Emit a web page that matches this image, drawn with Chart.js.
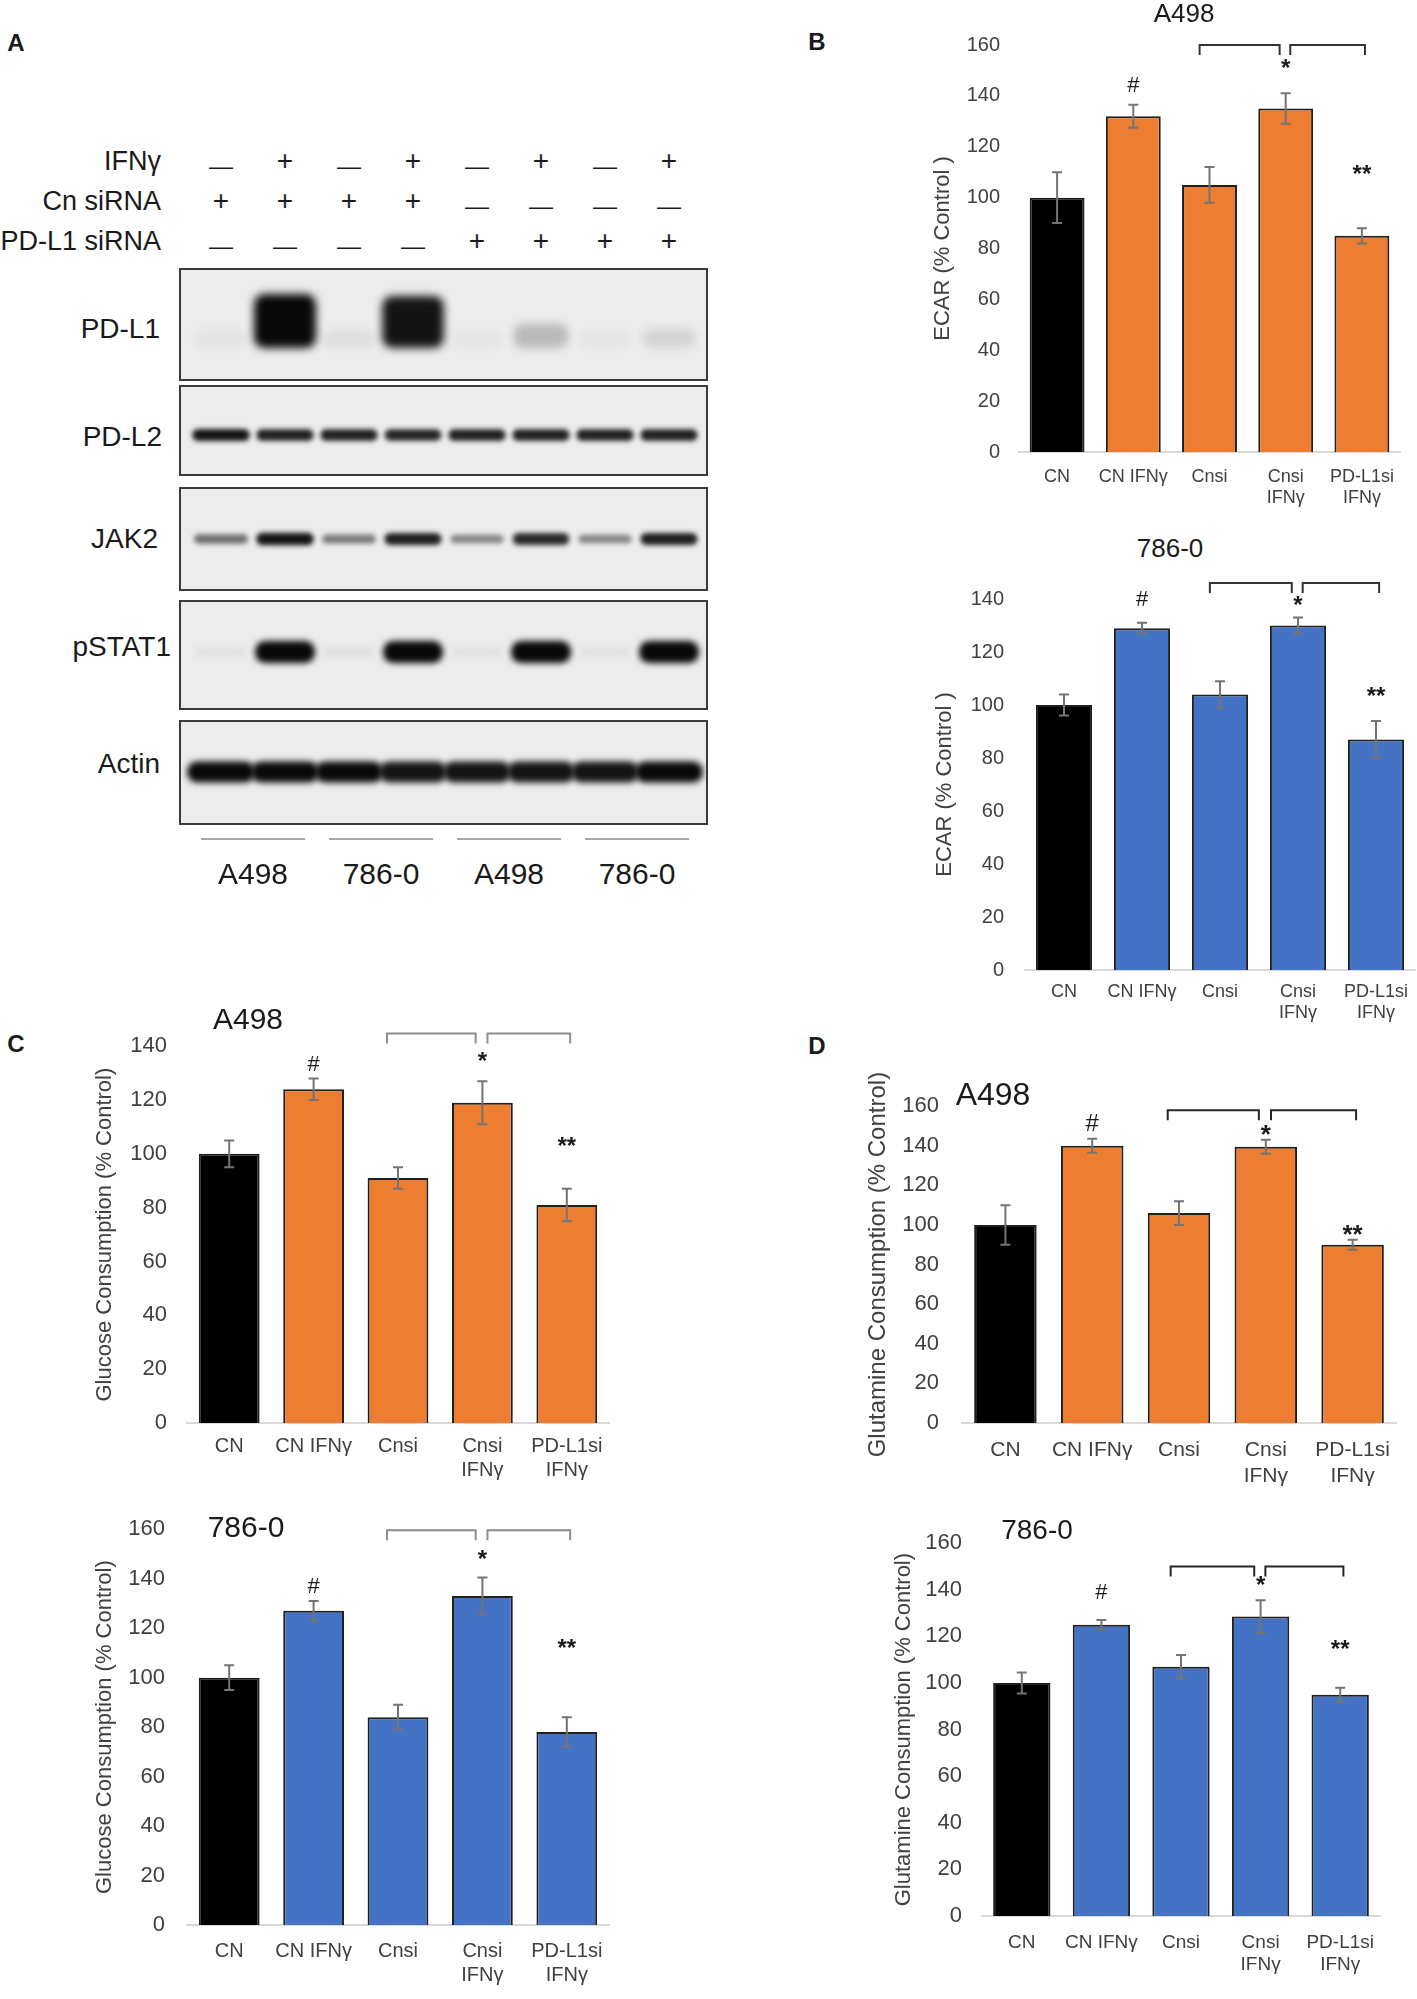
<!DOCTYPE html>
<html>
<head>
<meta charset="utf-8">
<script src="https://cdn.jsdelivr.net/npm/chart.js@4.4.1/dist/chart.umd.min.js"></script>
<style>
  body { margin: 0; background: #fff; }
  #fig { position: relative; width: 1417px; height: 1999px; overflow: hidden;
         font-family: "Liberation Sans", Arial, sans-serif; color: #1a1a1a; }
  .t { position: absolute; white-space: nowrap; line-height: 1; }
  .blot { position: absolute; border: 2px solid #3a3a3a; background: #ececec; box-sizing: border-box; }
  .seg { position: absolute; height: 2px; background: #a8a8a8; }
</style>
</head>
<body>
<div id="fig"></div>
<script>
// bar chart data (% of control)
const groups = ['CN', 'CN IFNγ', 'Cnsi', ['Cnsi', 'IFNγ'], ['PD-L1si', 'IFNγ']];

const ecarA498 = [100, 132, 105, 135, 85];
const ecarA498Err = [10, 4.5, 7, 6, 3];
const ecar786 = [100, 129, 104, 130, 87];
const ecar786Err = [4, 2, 5, 3, 7];
const glucoseA498 = [100, 124, 91, 119, 81];
const glucoseA498Err = [5, 4, 4, 8, 6];
const glucose786 = [100, 127, 84, 133, 78];
const glucose786Err = [5, 4, 5, 7.5, 6];
const glutamineA498 = [100, 140, 106, 139.5, 90];
const glutamineA498Err = [10, 3.5, 6, 3.5, 2.5];
const glutamine786 = [100, 125, 107, 128.5, 95];
const glutamine786Err = [4.5, 2, 5, 7, 3];

// western blot (band intensity 0..1)
const lanes = ['1', '2', '3', '4', '5', '6', '7', '8'];
const treatRows = ['IFNγ', 'Cn siRNA', 'PD-L1 siRNA'];
const ifng = ['—', '+', '—', '+', '—', '+', '—', '+'];
const cnSiRNA = ['+', '+', '+', '+', '—', '—', '—', '—'];
const pdl1SiRNA = ['—', '—', '—', '—', '+', '+', '+', '+'];
const blotNames = ['PD-L1', 'PD-L2', 'JAK2', 'pSTAT1', 'Actin'];
const pdl1Band = [0.04, 1, 0.06, 0.95, 0.03, 0.22, 0.03, 0.1];
const pdl2Band = [0.95, 0.9, 0.9, 0.88, 0.9, 0.9, 0.9, 0.9];
const jak2Band = [0.55, 0.95, 0.5, 0.9, 0.45, 0.85, 0.45, 0.9];
const pstat1Band = [0.05, 1, 0.06, 1, 0.05, 1, 0.05, 1];
const actinBand = [1, 1, 1, 0.95, 0.95, 0.95, 0.95, 1];
const cellLines = ['A498', '786-0', 'A498', '786-0'];

const ORANGE = '#ED7D31';
const BLUE = '#4472C4';
const FONT = '"Liberation Sans", Arial, sans-serif';
Chart.defaults.font.family = FONT;

const fig = document.getElementById('fig');

function addCanvas(left, top, w, h) {
  const c = document.createElement('canvas');
  c.width = w; c.height = h;
  c.style.cssText = `position:absolute;left:${left}px;top:${top}px;width:${w}px;height:${h}px`;
  fig.appendChild(c);
  return c;
}

function addText(str, x, y, size, align, weight) {
  const d = document.createElement('div');
  d.className = 't';
  d.textContent = str;
  const tx = align === 'right' ? '-100%' : align === 'left' ? '0' : '-50%';
  d.style.cssText += `left:${x}px;top:${y}px;font-size:${size}px;font-weight:${weight || 400};transform:translate(${tx},-50%)`;
  fig.appendChild(d);
  return d;
}

// error bars, brackets and significance marks
const decorPlugin = {
  id: 'decor',
  afterDraw(chart, args, o) {
    const {ctx, scales: {x, y}} = chart;
    const meta = chart.getDatasetMeta(0);
    const vals = chart.data.datasets[0].data;
    ctx.save();
    ctx.strokeStyle = '#747474';
    ctx.lineWidth = 2;
    o.errors.forEach((e, i) => {
      const cx = meta.data[i].x;
      const yt = y.getPixelForValue(vals[i] + e);
      const yb = y.getPixelForValue(vals[i] - e);
      ctx.beginPath();
      ctx.moveTo(cx, yt); ctx.lineTo(cx, yb);
      ctx.moveTo(cx - 5, yt); ctx.lineTo(cx + 5, yt);
      ctx.moveTo(cx - 5, yb); ctx.lineTo(cx + 5, yb);
      ctx.stroke();
    });
    // brackets
    ctx.strokeStyle = o.bracketColor;
    ctx.lineWidth = 2;
    const by = y.getPixelForValue(o.marks.bracket);
    [[2 - 0.13, 3 - 0.08], [3 + 0.06, 4 + 0.04]].forEach(([a, b]) => {
      const xa = x.getPixelForValue(a), xb = x.getPixelForValue(b);
      ctx.beginPath();
      ctx.moveTo(xa, by + 10); ctx.lineTo(xa, by); ctx.lineTo(xb, by); ctx.lineTo(xb, by + 10);
      ctx.stroke();
    });
    // marks
    ctx.fillStyle = '#1a1a1a';
    ctx.textAlign = 'center';
    ctx.textBaseline = 'middle';
    ctx.font = `${o.markSize}px ${FONT}`;
    ctx.fillText('#', x.getPixelForValue(1), y.getPixelForValue(o.marks.hash));
    ctx.font = `bold ${o.markSize + 2}px ${FONT}`;
    ctx.fillText('*', x.getPixelForValue(3), y.getPixelForValue(o.marks.star) + o.markSize * 0.2);
    ctx.fillText('**', x.getPixelForValue(4), y.getPixelForValue(o.marks.dstar) + o.markSize * 0.2);
    ctx.restore();
  }
};

const barPanels = [
  { values: ecarA498, errors: ecarA498Err, accent: ORANGE, yMax: 160, yTitle: 'ECAR (% Control )',
    left: 1019, right: 1400, top: 38, bottom: 452, titleX: 943, tickPad: 19, labelPad: 14,
    font: {tick: 20, x: 18, title: 22}, markSize: 22, bracketColor: '#333',
    marks: {hash: 144, star: 152, dstar: 110.5, bracket: 160} },
  { values: ecar786, errors: ecar786Err, accent: BLUE, yMax: 140, yTitle: 'ECAR (% Control )',
    left: 1025, right: 1415, top: 590, bottom: 970, titleX: 945, tickPad: 21, labelPad: 11,
    font: {tick: 20, x: 18, title: 22}, markSize: 22, bracketColor: '#333',
    marks: {hash: 139.5, star: 139, dstar: 104.5, bracket: 146} },
  { values: glucoseA498, errors: glucoseA498Err, accent: ORANGE, yMax: 140, yTitle: 'Glucose Consumption (% Control)',
    left: 187, right: 609, top: 1037, bottom: 1423, titleX: 105, tickPad: 20, labelPad: 11,
    font: {tick: 22, x: 20, title: 22}, markSize: 22, bracketColor: '#8c8c8c',
    marks: {hash: 133, star: 135.8, dstar: 104, bracket: 144.7} },
  { values: glucose786, errors: glucose786Err, accent: BLUE, yMax: 160, yTitle: 'Glucose Consumption (% Control)',
    left: 187, right: 609, top: 1518, bottom: 1925, titleX: 105, tickPad: 22, labelPad: 14,
    font: {tick: 22, x: 20, title: 22}, markSize: 22, bracketColor: '#8c8c8c',
    marks: {hash: 136.6, star: 149, dstar: 113, bracket: 159.6} },
  { values: glutamineA498, errors: glutamineA498Err, accent: ORANGE, yMax: 160, yTitle: 'Glutamine Consumption (% Control)',
    left: 962, right: 1396, top: 1094, bottom: 1423, titleX: 878, tickPad: 23, labelPad: 15,
    font: {tick: 22, x: 21, title: 24}, markSize: 24, bracketColor: '#262626',
    marks: {hash: 150.7, star: 147.5, dstar: 97, bracket: 158} },
  { values: glutamine786, errors: glutamine786Err, accent: BLUE, yMax: 160, yTitle: 'Glutamine Consumption (% Control)',
    left: 982, right: 1380, top: 1534, bottom: 1916, titleX: 904, tickPad: 20, labelPad: 15,
    font: {tick: 22, x: 19, title: 22}, markSize: 22, bracketColor: '#262626',
    marks: {hash: 138.5, star: 143.5, dstar: 115.8, bracket: 150} }
];

barPanels.forEach(p => {
  const padTop = 24, padRight = 12, axisH = 66;
  const cLeft = Math.round(p.titleX - 0.6 * p.font.title);
  const cTop = p.top - padTop;
  const canvas = addCanvas(cLeft, cTop, p.right + padRight - cLeft, p.bottom + axisH - cTop);
  new Chart(canvas, {
    type: 'bar',
    data: {
      labels: groups,
      datasets: [{
        data: p.values,
        backgroundColor: p.values.map((v, i) => i === 0 ? '#000000' : p.accent),
        borderColor: '#1f1f1f',
        borderWidth: 2,
        barPercentage: 0.72,
        categoryPercentage: 1
      }]
    },
    options: {
      responsive: false,
      animation: false,
      devicePixelRatio: 1,
      layout: { padding: { top: padTop, right: padRight, left: 0, bottom: 0 } },
      plugins: {
        legend: { display: false },
        tooltip: { enabled: false },
        decor: { errors: p.errors, marks: p.marks, markSize: p.markSize, bracketColor: p.bracketColor }
      },
      scales: {
        x: {
          grid: { display: false, drawTicks: false },
          border: { display: true, color: '#d9d9d9', width: 2 },
          ticks: { padding: p.labelPad, color: '#404040', font: { size: p.font.x }, maxRotation: 0, autoSkip: false },
          afterFit: s => { s.height = axisH; }
        },
        y: {
          min: 0, max: p.yMax,
          grid: { display: false, drawTicks: false },
          border: { display: false },
          ticks: { stepSize: 20, padding: p.tickPad, color: '#404040', font: { size: p.font.tick } },
          title: { display: true, text: p.yTitle, color: '#404040', font: { size: p.font.title }, padding: 0 },
          afterFit: s => { s.width = p.left - cLeft; }
        }
      }
    },
    plugins: [decorPlugin]
  });
});

// chart titles and panel letters
addText('A498', 1184, 13, 26);
addText('786-0', 1170, 548, 26);
addText('A498', 248, 1019, 30);
addText('786-0', 246, 1527, 30);
addText('A498', 993, 1094, 32);
addText('786-0', 1037, 1530, 28);
addText('A', 16, 43, 24, 'center', 700);
addText('B', 817, 42, 24, 'center', 700);
addText('C', 16, 1044, 24, 'center', 700);
addText('D', 817, 1046, 24, 'center', 700);

// ---- western blot ----
const bandPlugin = {
  id: 'bands',
  afterDatasetsDraw(chart, args, o) {
    const {ctx} = chart;
    const meta = chart.getDatasetMeta(0);
    ctx.save();
    ctx.filter = `blur(${o.blur}px)`;
    chart.data.datasets[0].data.forEach((v, i) => {
      const cx = meta.data[i].x;
      const h = o.minH + (o.maxH - o.minH) * v;
      const cy = o.anchorBottom ? o.anchorBottom - h / 2 : o.center;
      const w = o.bandW * (0.85 + 0.15 * v);
      ctx.fillStyle = `rgba(8,8,8,${Math.min(1, v)})`;
      ctx.beginPath();
      ctx.roundRect(cx - w / 2, cy - h / 2, w, h, Math.min(h / 2, 10));
      ctx.fill();
    });
    ctx.restore();
  }
};

const bandData = [pdl1Band, pdl2Band, jak2Band, pstat1Band, actinBand];
const blotStyle = [
  { top: 268, bottom: 381, labelY: 329, labelR: 160, bandW: 62, minH: 16, maxH: 54, anchorBottom: 78, blur: 4 },
  { top: 385, bottom: 476, labelY: 437, labelR: 162, bandW: 58, minH: 9, maxH: 12, center: 48, blur: 2.5 },
  { top: 487, bottom: 591, labelY: 539, labelR: 158, bandW: 58, minH: 5, maxH: 13, center: 50, blur: 2.5 },
  { top: 600, bottom: 710, labelY: 647, labelR: 171, bandW: 60, minH: 8, maxH: 22, center: 50, blur: 3 },
  { top: 720, bottom: 825, labelY: 764, labelR: 160, bandW: 68, minH: 18, maxH: 21, center: 50, blur: 3 }
];
const blotLeft = 179, blotRight = 708;

let laneChart = null;
blotStyle.forEach((st, r) => {
  const box = document.createElement('div');
  box.className = 'blot';
  box.style.cssText += `left:${blotLeft}px;top:${st.top}px;width:${blotRight - blotLeft}px;height:${st.bottom - st.top}px`;
  fig.appendChild(box);
  const canvas = addCanvas(blotLeft + 2, st.top + 2, blotRight - blotLeft - 4, st.bottom - st.top - 4);
  const ch = new Chart(canvas, {
    type: 'bar',
    data: { labels: lanes, datasets: [{ data: bandData[r], backgroundColor: 'rgba(0,0,0,0)', borderWidth: 0 }] },
    options: {
      responsive: false, animation: false, devicePixelRatio: 1,
      layout: { padding: { left: 8, right: 5, top: 0, bottom: 0 } },
      plugins: { legend: { display: false }, tooltip: { enabled: false }, bands: st },
      scales: { x: { display: false }, y: { display: false, min: 0, max: 1 } }
    },
    plugins: [bandPlugin]
  });
  if (!laneChart) laneChart = ch;
  addText(blotNames[r], st.labelR, st.labelY, 28, 'right');
});

const laneMeta = laneChart.getDatasetMeta(0);
const laneX = i => blotLeft + 2 + laneMeta.data[i].x;

// treatment rows
const treatY = [161, 201, 241];
[ifng, cnSiRNA, pdl1SiRNA].forEach((row, r) => {
  addText(treatRows[r], 161, treatY[r], 27, 'right');
  row.forEach((s, i) => {
    addText(s, laneX(i), treatY[r] + (s === '+' ? 0 : 5), s === '+' ? 28 : 24);
  });
});

// cell line groups under the blot
cellLines.forEach((name, k) => {
  const cx = (laneX(2 * k) + laneX(2 * k + 1)) / 2;
  const seg = document.createElement('div');
  seg.className = 'seg';
  seg.style.cssText += `left:${cx - 52}px;top:838px;width:104px`;
  fig.appendChild(seg);
  addText(name, cx, 874, 30);
});
</script>
</body>
</html>
